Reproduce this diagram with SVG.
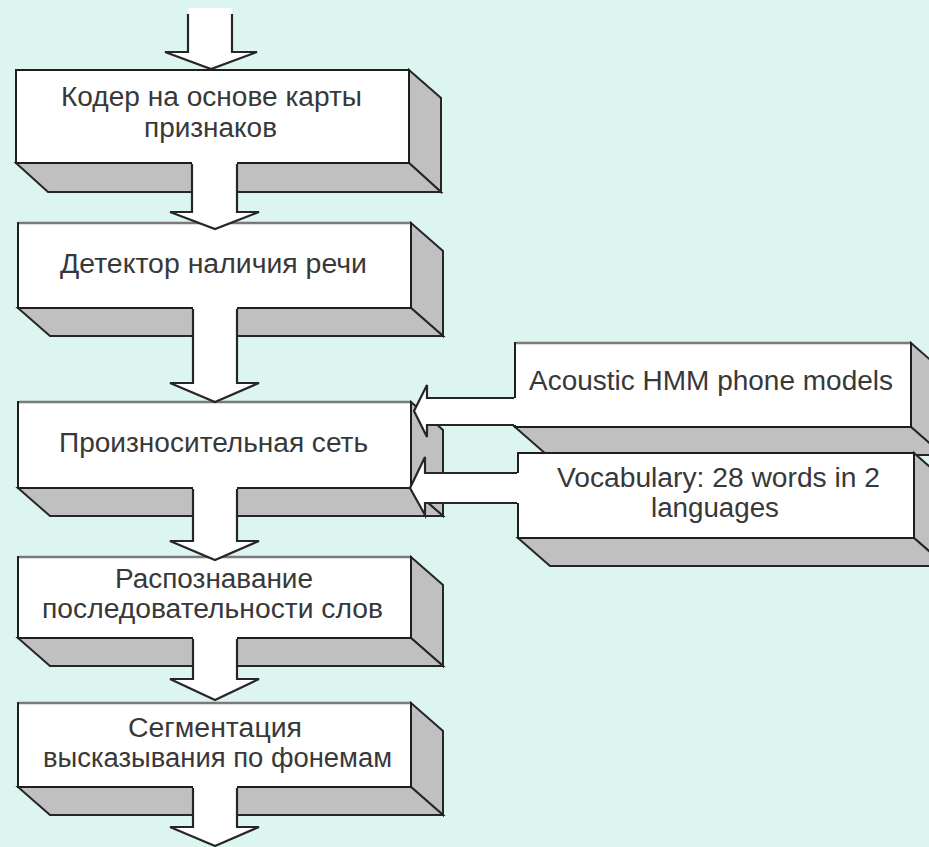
<svg xmlns="http://www.w3.org/2000/svg" width="929" height="847" viewBox="0 0 929 847">
<style>
.front{fill:#ffffff;stroke:#1e1e1e;stroke-width:2}
.topedge{stroke:#7a7a7a;stroke-width:2.5}
.face{fill:#c0c0c0;stroke:#262626;stroke-width:2;stroke-linejoin:miter}
.afill{fill:#ffffff;stroke:none}
.aline{fill:none;stroke:#262626;stroke-width:2.2;stroke-linejoin:miter}
.t{font-family:"Liberation Sans",Arial,sans-serif;font-size:27px;fill:#383838;text-anchor:middle}
</style>
<rect x="0" y="0" width="929" height="847" fill="#ddf5f1"/>
<g id="node-coder">
<polygon class="face" points="409,70 441,98 441,192 409,163"/>
<polygon class="face" points="16,163 409,163 441,192 48,192"/>
<rect class="front" x="16" y="70" width="393" height="93"/>
<text class="t" x="211.5" y="106" textLength="301" lengthAdjust="spacingAndGlyphs">Кодер на основе карты</text>
<text class="t" x="210.5" y="137" textLength="133" lengthAdjust="spacingAndGlyphs">признаков</text>
</g>
<g id="node-detector">
<polygon class="face" points="411,223 443,251 443,336 411,308"/>
<polygon class="face" points="18,308 411,308 443,336 50,336"/>
<rect class="front" x="18" y="223" width="393" height="85"/>
<line class="topedge" x1="19" y1="223" x2="410" y2="223"/>
<text class="t" x="213.5" y="273" textLength="307" lengthAdjust="spacingAndGlyphs">Детектор наличия речи</text>
</g>
<g id="node-network">
<polygon class="face" points="411,402 443,430 443,516 411,488"/>
<polygon class="face" points="18,488 411,488 443,516 50,516"/>
<rect class="front" x="18" y="402" width="393" height="86"/>
<line class="topedge" x1="19" y1="402" x2="410" y2="402"/>
<text class="t" x="213.5" y="452" textLength="309" lengthAdjust="spacingAndGlyphs">Произносительная сеть</text>
</g>
<g id="node-recognition">
<polygon class="face" points="411,557 443,585 443,666 411,638"/>
<polygon class="face" points="18,638 411,638 443,666 50,666"/>
<rect class="front" x="18" y="557" width="393" height="81"/>
<line class="topedge" x1="19" y1="557" x2="410" y2="557"/>
<text class="t" x="214" y="588" textLength="198" lengthAdjust="spacingAndGlyphs">Распознавание</text>
<text class="t" x="212.5" y="618" textLength="341" lengthAdjust="spacingAndGlyphs">последовательности слов</text>
</g>
<g id="node-segmentation">
<polygon class="face" points="411,703 443,731 443,815 411,787"/>
<polygon class="face" points="18,787 411,787 443,815 50,815"/>
<rect class="front" x="18" y="703" width="393" height="84"/>
<line class="topedge" x1="19" y1="703" x2="410" y2="703"/>
<text class="t" x="215" y="737" textLength="174" lengthAdjust="spacingAndGlyphs">Сегментация</text>
<text class="t" x="217.5" y="767" textLength="349" lengthAdjust="spacingAndGlyphs">высказывания по фонемам</text>
</g>
<g id="node-acoustic">
<polygon class="face" points="911,343 943,371 943,455 911,427"/>
<polygon class="face" points="515,427 911,427 943,455 547,455"/>
<rect class="front" x="515" y="343" width="396" height="84"/>
<line class="topedge" x1="516" y1="343" x2="910" y2="343"/>
<text class="t" x="711" y="390" textLength="364" lengthAdjust="spacingAndGlyphs">Acoustic HMM phone models</text>
</g>
<g id="node-vocabulary">
<polygon class="face" points="914,453 946,481 946,566 914,538"/>
<polygon class="face" points="518,538 914,538 946,566 550,566"/>
<rect class="front" x="518" y="453" width="396" height="85"/>
<text class="t" x="718.5" y="487" textLength="323" lengthAdjust="spacingAndGlyphs">Vocabulary: 28 words in 2</text>
<text class="t" x="715" y="517" textLength="128" lengthAdjust="spacingAndGlyphs">languages</text>
</g>
<g id="connectors">
<polygon class="afill" points="188,8 232,8 232,52 257,52 211,69 165,52 188,52"/>
<polyline class="aline" points="188,14 188,52 165,52 211,69 257,52 232,52 232,14"/>
<polygon class="afill" points="192,162 237,162 237,212 259,212 215,229 170,212 192,212"/>
<polyline class="aline" points="192,164 192,212 170,212 215,229 259,212 237,212 237,164"/>
<polygon class="afill" points="193,307 237,307 237,383 259,383 215,402 170,383 193,383"/>
<polyline class="aline" points="193,309 193,383 170,383 215,402 259,383 237,383 237,309"/>
<polygon class="afill" points="193,487 237,487 237,541 259,541 215,560 170,541 193,541"/>
<polyline class="aline" points="193,489 193,541 170,541 215,560 259,541 237,541 237,489"/>
<polygon class="afill" points="193,637 237,637 237,679 259,679 215,700 170,679 193,679"/>
<polyline class="aline" points="193,639 193,679 170,679 215,700 259,679 237,679 237,639"/>
<polygon class="afill" points="193,786 237,786 237,827 259,827 215,846 170,827 193,827"/>
<polyline class="aline" points="193,788 193,827 170,827 215,846 259,827 237,827 237,788"/>
<polygon class="afill" points="516,398 427,398 427,385 414,411 427,437 427,425 516,425"/>
<polyline class="aline" points="514,398 427,398 427,385 414,411 427,437 427,425 514,425"/>
<polygon class="afill" points="519,473 425,473 425,457 410,488 425,515 425,503 519,503"/>
<polyline class="aline" points="517,473 425,473 425,457 410,488 425,515 425,503 517,503"/>
</g>
</svg>
